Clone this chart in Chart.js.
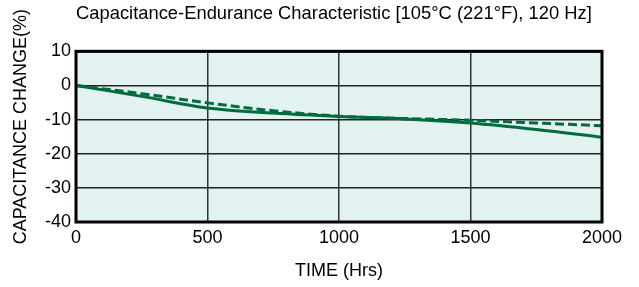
<!DOCTYPE html>
<html>
<head>
<meta charset="utf-8">
<script src="https://cdn.jsdelivr.net/npm/chart.js@4/dist/chart.umd.min.js"></script>
<style>
  html, body { margin: 0; padding: 0; background: #ffffff; }
  #wrap { width: 639px; height: 287px; }
</style>
</head>
<body>
<div id="wrap"><canvas id="c" width="639" height="287"></canvas></div>
<script>
const chartTitle = 'Capacitance-Endurance Characteristic [105\u00B0C (221\u00B0F), 120 Hz]  ';
const xAxisTitle = 'TIME (Hrs)';
const yAxisTitle = '    CAPACITANCE CHANGE(%)';
const hours = [0, 250, 500, 750, 1000, 1250, 1500, 1750, 2000];
const solidChange = [0, -3.2, -6.6, -8.1, -9.1, -9.8, -11.0, -12.9, -15.2];
const dashedChange = [0, -2.4, -5.1, -7.4, -9.0, -9.7, -10.2, -11.0, -11.8];
const xTicks = [0, 500, 1000, 1500, 2000];
const yTicks = [10, 0, -10, -20, -30, -40];

const lineColor = '#006b3f';
const FONT = "'Liberation Sans', Arial, sans-serif";

const toPoints = (xs, ys) => xs.map((x, i) => ({ x: x, y: ys[i] }));

const plotDecor = {
  id: 'plotDecor',
  beforeDraw(chart) {
    const { ctx, chartArea: a } = chart;
    ctx.save();
    ctx.fillStyle = '#e1f2f0';
    ctx.fillRect(a.left, a.top, a.right - a.left, a.bottom - a.top);
    ctx.restore();
  },
  afterDraw(chart) {
    const { ctx, chartArea: a } = chart;
    ctx.save();
    ctx.strokeStyle = '#000000';
    ctx.lineWidth = 3;
    ctx.strokeRect(a.left, a.top, a.right - a.left, a.bottom - a.top);
    ctx.restore();
  }
};

new Chart(document.getElementById('c'), {
  type: 'line',
  data: {
    datasets: [
      {
        label: 'solid',
        data: toPoints(hours, solidChange),
        borderColor: lineColor,
        borderWidth: 3,
        pointRadius: 0,
        fill: false,
        tension: 0.35
      },
      {
        label: 'dashed',
        data: toPoints(hours, dashedChange),
        borderColor: lineColor,
        borderWidth: 3,
        borderDash: [9, 4],
        pointRadius: 0,
        fill: false,
        tension: 0.35
      }
    ]
  },
  options: {
    responsive: false,
    animation: false,
    devicePixelRatio: 1,
    layout: { padding: { top: 0, right: 37, bottom: 0, left: 0 } },
    plugins: {
      legend: { display: false },
      tooltip: { enabled: false },
      title: {
        display: true,
        text: chartTitle,
        fullSize: false,
        color: '#000000',
        font: { family: FONT, size: 18.6, weight: 'normal', lineHeight: 1.2 },
        padding: { top: 3, bottom: 26 }
      }
    },
    scales: {
      x: {
        type: 'linear',
        min: 0,
        max: 2000,
        afterBuildTicks(scale) { scale.ticks = xTicks.map(v => ({ value: v })); },
        afterFit(scale) { scale.height = 65; },
        grid: { color: '#333333', lineWidth: 1.5, drawTicks: false },
        border: { display: false },
        ticks: {
          color: '#000000',
          padding: 5,
          maxRotation: 0,
          font: { family: FONT, size: 18 },
          callback: (v) => String(v)
        },
        title: {
          display: true,
          text: xAxisTitle,
          color: '#000000',
          font: { family: FONT, size: 18, lineHeight: 1.2 },
          padding: { top: 0, bottom: 5 }
        }
      },
      y: {
        type: 'linear',
        min: -40,
        max: 10,
        afterBuildTicks(scale) { scale.ticks = yTicks.map(v => ({ value: v })); },
        afterFit(scale) { scale.width = 76; },
        grid: { color: '#222222', lineWidth: 1.5, drawTicks: false },
        border: { display: false },
        ticks: {
          color: '#000000',
          padding: 5,
          font: { family: FONT, size: 18 },
          callback: (v) => String(v)
        },
        title: {
          display: true,
          text: yAxisTitle,
          color: '#000000',
          font: { family: FONT, size: 18, lineHeight: 1.2 },
          padding: { top: 10, bottom: 0 }
        }
      }
    }
  },
  plugins: [plotDecor]
});
</script>
</body>
</html>
